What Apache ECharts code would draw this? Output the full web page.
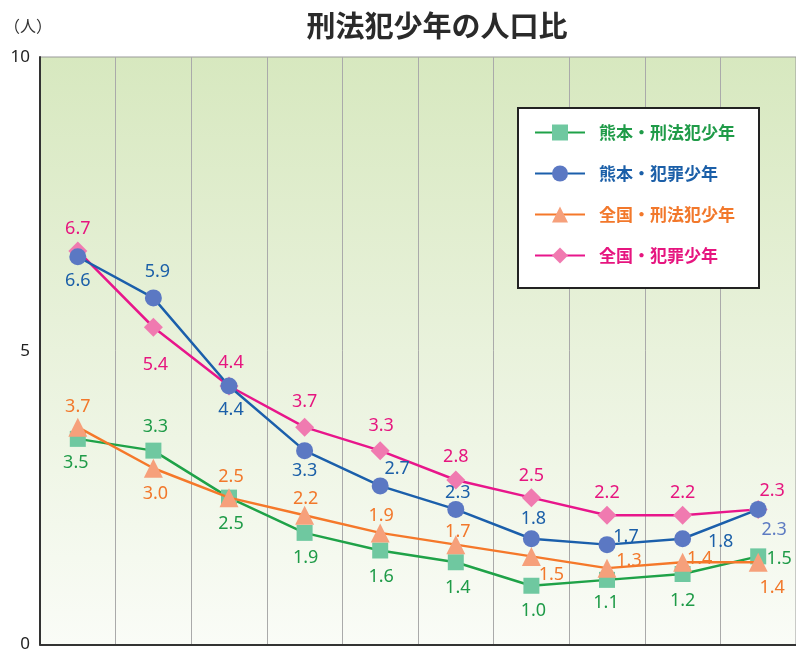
<!DOCTYPE html>
<html>
<head>
<meta charset="utf-8">
<script src="https://cdn.jsdelivr.net/npm/echarts@6/dist/echarts.min.js"></script>
<style>html,body{margin:0;padding:0;background:#fff;}#c{width:796px;height:653px;}</style>
</head>
<body>
<div id="c"></div>
<script>
var categories = ['1','2','3','4','5','6','7','8','9','10'];
var kumamotoKeiho = [3.5, 3.3, 2.5, 1.9, 1.6, 1.4, 1.0, 1.1, 1.2, 1.5];
var kumamotoHanzai = [6.6, 5.9, 4.4, 3.3, 2.7, 2.3, 1.8, 1.7, 1.8, 2.3];
var zenkokuKeiho = [3.7, 3.0, 2.5, 2.2, 1.9, 1.7, 1.5, 1.3, 1.4, 1.4];
var zenkokuHanzai = [6.7, 5.4, 4.4, 3.7, 3.3, 2.8, 2.5, 2.2, 2.2, 2.3];
var yTicks = [0, 5, 10];

// label offsets (px) relative to each marker
var offKK = [[-2,24],[2,-24],[2,26],[1,25],[1,26],[2,26],[2,25],[-1,23],[0,27],[21,2]];
var offKH = [[0,24],[4,-26],[2,24],[0,20],[17,-17],[2,-17],[2,-20],[19,-8],[38,3],[16,20]];
var offZK = [[0,-20],[2,26],[2,-21],[1,-16],[1,-17],[2,-13],[20,18],[22,-7],[17,-3],[14,26]];
var offZH = [[0,-22],[2,38],[2,-23],[0,-25],[1,-25],[0,-23],[0,-22],[0,-22],[0,-22],[14,-19]];

function mk(vals, offs, color) {
  return vals.map(function (v, i) {
    return { value: v, label: { offset: offs[i], color: color } };
  });
}

var labelBase = { show: true, position: 'inside', fontFamily: 'Noto Sans', fontSize: 18,
  formatter: function (p) { return p.value.toFixed(1); } };

var chart = echarts.init(document.getElementById('c'), null, { renderer: 'canvas' });
var lastKH = mk(kumamotoHanzai, offKH, '#1b5fa8');
lastKH[9].label.color = '#5d7bc2';

chart.setOption({
  animation: false,
  title: { text: '刑法犯少年の人口比', left: 432, textAlign: 'center', top: 6,
    textStyle: { fontFamily: 'Noto Sans CJK JP', fontSize: 29, fontWeight: 'bold', color: '#2a2a2a' } },
  graphic: [
    { type: 'text', left: 4, top: 18, style: { text: '（人）', font: '16px "Noto Sans CJK JP"', fill: '#333' } },
    { type: 'rect', shape: { x: 518, y: 108, width: 241, height: 180 }, z: 50,
      style: { fill: '#fff', stroke: '#222', lineWidth: 2 } }
  ],
  legend: {
    orient: 'vertical', left: 534, top: 124, z: 60, padding: 0,
    itemWidth: 50, itemHeight: 20, itemGap: 24,
    textStyle: { fontFamily: 'Noto Sans CJK JP', fontSize: 17, fontWeight: 'bold', padding: [0, 0, 0, 9] },
    data: [
      { name: '熊本・刑法犯少年', textStyle: { color: '#1f9b48' } },
      { name: '熊本・犯罪少年', textStyle: { color: '#1b5fa8' } },
      { name: '全国・刑法犯少年', textStyle: { color: '#f2782b' } },
      { name: '全国・犯罪少年', textStyle: { color: '#e6157f' } }
    ]
  },
  grid: { left: 40, right: 0, top: 57, bottom: 2, show: true, borderColor: '#999', borderWidth: 1,
    backgroundColor: { type: 'linear', x: 0, y: 0, x2: 0, y2: 1,
      colorStops: [{ offset: 0, color: '#d7e8bf' }, { offset: 0.5, color: '#e9f2dc' }, { offset: 1, color: '#fafcf7' }] } },
  xAxis: {
    type: 'category', data: categories, boundaryGap: true,
    axisLine: { lineStyle: { color: '#333', width: 2 } },
    axisTick: { show: false }, axisLabel: { show: false },
    splitLine: { show: true, lineStyle: { color: '#aaa', width: 1 } }
  },
  yAxis: {
    type: 'value', min: 0, max: 10, interval: 5,
    axisLine: { show: true, lineStyle: { color: '#333', width: 2 } },
    axisTick: { show: false }, splitLine: { show: false },
    axisLabel: { margin: 10, fontFamily: 'Noto Sans', fontSize: 17, color: '#222',
      formatter: function (v) { return yTicks.indexOf(v) >= 0 ? String(v) : ''; } }
  },
  series: [
    { name: '熊本・刑法犯少年', type: 'line', z: 3, data: mk(kumamotoKeiho, offKK, '#1f9b48'),
      symbol: 'rect', symbolSize: 16,
      lineStyle: { color: '#1fa248', width: 2.5 }, itemStyle: { color: '#6fc8a0' }, label: labelBase },
    { name: '熊本・犯罪少年', type: 'line', z: 6, data: lastKH,
      symbol: 'circle', symbolSize: 17,
      lineStyle: { color: '#1b5fab', width: 2.5 }, itemStyle: { color: '#5b78c3' }, label: labelBase },
    { name: '全国・刑法犯少年', type: 'line', z: 4, data: mk(zenkokuKeiho, offZK, '#f2782b'),
      symbol: 'triangle', symbolSize: 19,
      lineStyle: { color: '#f5782a', width: 2.5 }, itemStyle: { color: '#f6a07b' }, label: labelBase },
    { name: '全国・犯罪少年', type: 'line', z: 2, data: mk(zenkokuHanzai, offZH, '#e6157f'),
      symbol: 'diamond', symbolSize: 19,
      lineStyle: { color: '#e8168b', width: 2.5 }, itemStyle: { color: '#f07ab0' }, label: labelBase }
  ]
});
</script>
</body>
</html>
